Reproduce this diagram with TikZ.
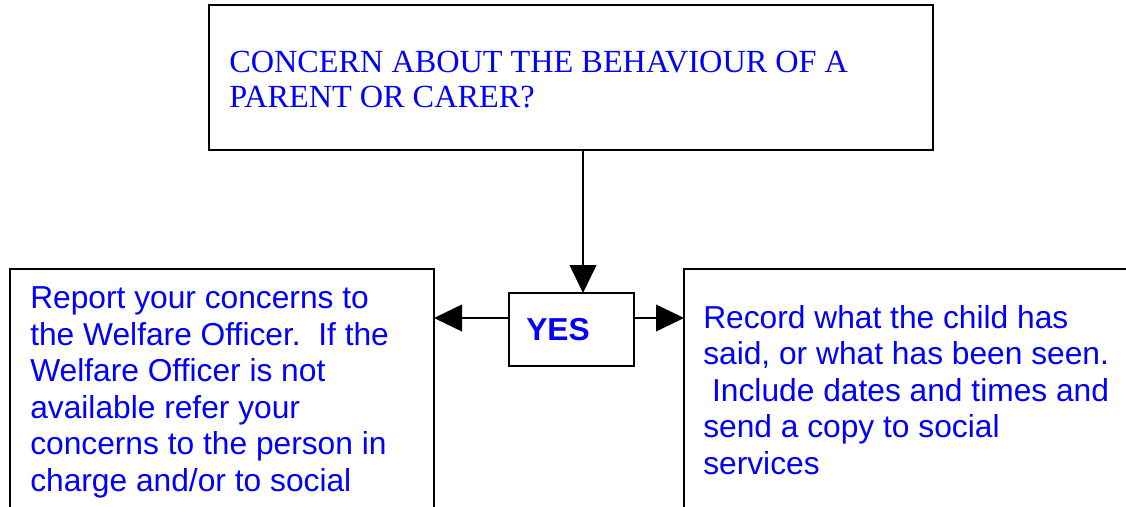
\documentclass[tikz,border=0pt]{standalone}
\usepackage{fontspec}
\setmainfont{Liberation Serif}
\newfontfamily\arialfont{Liberation Sans}
\usetikzlibrary{arrows.meta}
\definecolor{txtblue}{RGB}{0,0,255}
\tikzset{
  box/.style={draw=black, line width=1.4pt, inner sep=0pt, outer sep=0pt, anchor=north west},
  serif txt/.style={text=txtblue, inner sep=0pt, anchor=north west, align=left,
    font=\fontsize{24.2}{26.8}\selectfont},
  sans txt/.style={text=txtblue, inner sep=0pt, anchor=north west, align=left,
    font=\arialfont\fontsize{23.8}{27.4}\selectfont},
  arrow/.style={line width=1.4pt, -{Triangle[length=21pt,width=20pt]}}
}
\begin{document}
\begin{tikzpicture}[x=0.75pt,y=-0.75pt]
\useasboundingbox (0,0) rectangle (1126,506);
\clip (0,0) rectangle (1126,506);
% boxes
\node[box, minimum width=543pt, minimum height=108.75pt] (top) at (209,5) {};
\node[box, minimum width=318pt, minimum height=220pt] (left) at (10,269) {};
\node[box, minimum width=360pt, minimum height=220pt] (right) at (684,269) {};
\node[box, minimum width=93.75pt, minimum height=54.75pt] (yes) at (509,293) {};
% texts
\node[serif txt] (toptxt) at (229,50.5) {CONCERN ABOUT THE BEHAVIOUR OF A\\PARENT OR CARER?};
\node[sans txt] (lefttxt) at (30,286.5) {Report your concerns to\\the Welfare Officer.\ \ If the\\Welfare Officer is not\\available refer your\\concerns to the person in\\charge and/or to social};
\node[sans txt] (righttxt) at (703,305) {Record what the child has\\said, or what has been seen.\\\hspace*{0.28em}Include dates and times and\\send a copy to social\\services};
\node[text=txtblue, inner sep=0pt, font=\arialfont\bfseries\fontsize{23.8}{27}\selectfont] (yestxt) at (558,330) {YES};
% connectors
\coordinate (ax) at (583,0);
\coordinate (ay) at (0,318);
\draw[arrow] (top.south -| ax) -- (yes.north -| ax);
\draw[arrow] (yes.west |- ay) -- (left.east |- ay);
\draw[arrow] (yes.east |- ay) -- (right.west |- ay);
\end{tikzpicture}
\end{document}
